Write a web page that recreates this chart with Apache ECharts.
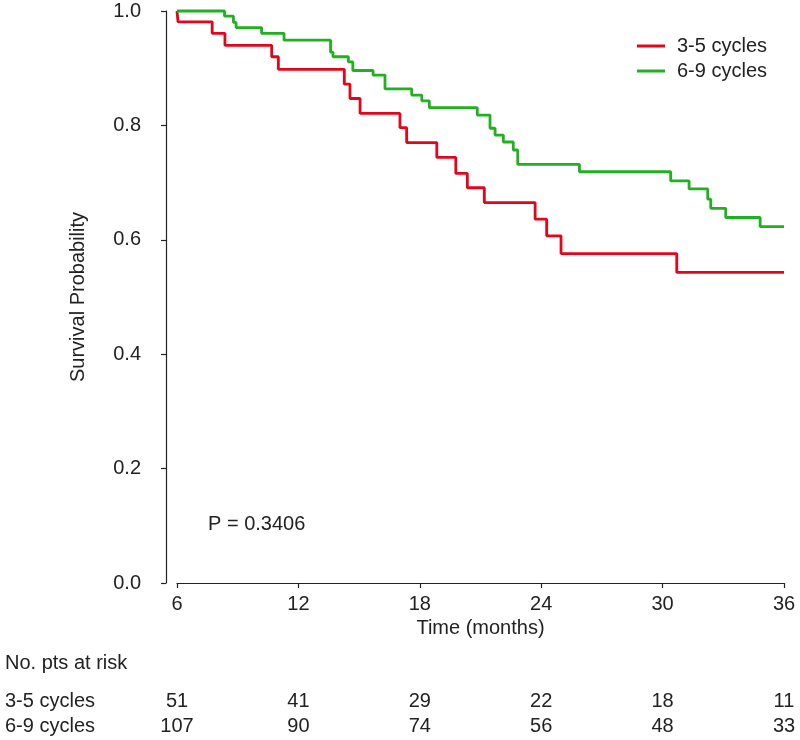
<!DOCTYPE html>
<html>
<head>
<meta charset="utf-8">
<script src="https://cdn.jsdelivr.net/npm/echarts@6/dist/echarts.min.js"></script>
<style>
  html, body { margin: 0; padding: 0; background: #fff; }
  #chart { width: 800px; height: 740px; }
</style>
</head>
<body>
<div id="chart"></div>
<script>
// Kaplan-Meier steps (time in months, survival)
const times35 = [6, 6.05, 7.74, 8.37, 10.68, 11.01, 14.27, 14.55, 15.05, 17.02, 17.35, 18.84, 19.78, 20.35, 21.19, 23.70, 24.27, 24.98, 30.70, 36];
const surv35 = [1.0, 0.981, 0.961, 0.940, 0.920, 0.898, 0.872, 0.847, 0.821, 0.796, 0.770, 0.744, 0.716, 0.691, 0.665, 0.636, 0.607, 0.576, 0.543, 0.543];

const times69 = [6, 8.35, 8.79, 8.92, 10.18, 11.29, 13.59, 13.71, 14.47, 14.69, 15.69, 16.28, 17.60, 18.10, 18.47, 20.84, 21.47, 21.72, 22.13, 22.62, 22.84, 25.89, 30.40, 31.31, 32.23, 32.38, 33.12, 34.82, 36];
const surv69 = [1.0, 0.991, 0.980, 0.971, 0.961, 0.949, 0.928, 0.920, 0.911, 0.896, 0.888, 0.864, 0.853, 0.843, 0.831, 0.818, 0.795, 0.783, 0.771, 0.757, 0.732, 0.719, 0.703, 0.689, 0.671, 0.655, 0.639, 0.623, 0.623];

const groups = ['3-5 cycles', '6-9 cycles'];
const riskTimes = [6, 12, 18, 24, 30, 36];
const risk35 = [51, 41, 29, 22, 18, 11];
const risk69 = [107, 90, 74, 56, 48, 33];
const pText = 'P = 0.3406';

const font = '"Liberation Sans", Arial, sans-serif';
const ink = '#222222';
const colors = ['#e2061c', '#20b020'];

const zip = (xs, ys) => xs.map((x, i) => [x, ys[i]]);
const riskRows = [];
riskTimes.forEach((t, i) => {
  riskRows.push([t, groups[0], risk35[i]]);
  riskRows.push([t, groups[1], risk69[i]]);
});

const chart = echarts.init(document.getElementById('chart'));

chart.setOption({
  animation: false,
  textStyle: { fontFamily: font },
  grid: [
    { left: 177, right: 16, top: 11, bottom: 157 },
    { left: 177, right: 16, top: 689, height: 50 }
  ],
  legend: {
    orient: 'vertical',
    left: 632,
    top: 31,
    itemWidth: 28,
    itemHeight: 3,
    itemGap: 5,
    icon: 'rect',
    data: groups,
    textStyle: { fontSize: 20, color: ink, padding: [0, 0, 0, 7] }
  },
  xAxis: [
    {
      gridIndex: 0,
      type: 'value',
      min: 6,
      max: 36,
      interval: 6,
      offset: 1,
      name: 'Time (months)',
      nameLocation: 'middle',
      nameGap: 33,
      nameTextStyle: { fontSize: 20, color: ink },
      axisLine: { lineStyle: { color: ink, width: 1.2 } },
      axisTick: { length: 5, lineStyle: { color: ink, width: 1.2 } },
      axisLabel: { fontSize: 20, color: ink, margin: 10 },
      splitLine: { show: false }
    },
    {
      gridIndex: 1,
      type: 'value',
      min: 6,
      max: 36,
      interval: 6,
      show: false
    }
  ],
  yAxis: [
    {
      gridIndex: 0,
      type: 'value',
      min: 0,
      max: 1,
      interval: 0.2,
      offset: 11,
      name: 'Survival Probability',
      nameLocation: 'middle',
      nameGap: 78,
      nameTextStyle: { fontSize: 20, color: ink },
      axisLine: { show: true, lineStyle: { color: ink, width: 1.2 } },
      axisTick: { show: true, length: 5, lineStyle: { color: ink, width: 1.2 } },
      axisLabel: { fontSize: 20, color: ink, margin: 25, formatter: v => v.toFixed(1) },
      splitLine: { show: false }
    },
    {
      gridIndex: 1,
      type: 'category',
      data: groups,
      inverse: true,
      axisLine: { show: false },
      axisTick: { show: false },
      axisLabel: { fontSize: 20, color: ink, align: 'left', margin: 172, interval: 0 }
    }
  ],
  series: [
    {
      name: groups[0],
      type: 'line',
      step: 'end',
      clip: false,
      showSymbol: false,
      color: colors[0],
      lineStyle: { width: 2.8, color: colors[0] },
      data: zip(times35, surv35)
    },
    {
      name: groups[1],
      type: 'line',
      step: 'end',
      clip: false,
      showSymbol: false,
      color: colors[1],
      lineStyle: { width: 2.8, color: colors[1] },
      data: zip(times69, surv69)
    },
    {
      type: 'scatter',
      xAxisIndex: 1,
      yAxisIndex: 1,
      symbolSize: 0,
      silent: true,
      itemStyle: { opacity: 1 },
      data: riskRows,
      label: {
        show: true,
        position: 'inside',
        fontSize: 20,
        color: ink,
        opacity: 1,
        formatter: p => String(p.value[2])
      }
    }
  ],
  graphic: [
    {
      type: 'text',
      left: 208,
      top: 514,
      style: { text: pText, font: '20px ' + font, fill: ink }
    },
    {
      type: 'text',
      left: 5,
      top: 653,
      style: { text: 'No. pts at risk', font: '20px ' + font, fill: ink }
    }
  ]
});
</script>
</body>
</html>
